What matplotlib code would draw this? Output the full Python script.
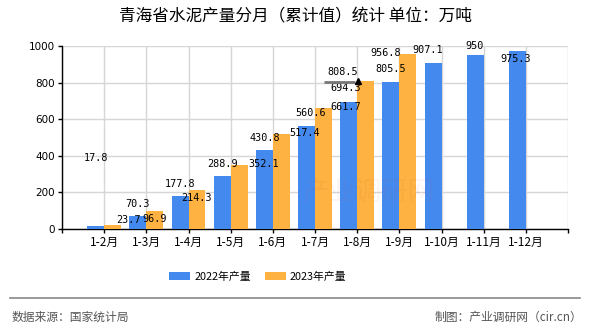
import matplotlib
matplotlib.use('Agg')
import matplotlib.pyplot as plt
import numpy as np

# ================= ДАННЫЕ =================
categories = ['1-2月', '1-3月', '1-4月', '1-5月', '1-6月', '1-7月',
              '1-8月', '1-9月', '1-10月', '1-11月', '1-12月']
prod_2022 = [17.8, 70.3, 177.8, 288.9, 430.8, 560.6, 694.3, 805.5, 907.1, 950, 975.3]
prod_2023 = [23.7, 96.9, 214.3, 352.1, 517.4, 661.7, 808.5, 956.8]
label_2022 = '2022年产量'
label_2023 = '2023年产量'
title = '青海省水泥产量分月（累计值）统计 单位：万吨'
source = '数据来源：国家统计局'
maker = '制图：产业调研网（cir.cn）'
# ==========================================

# сдвиги подписей в пикселях (как раскладка подписей на исходнике)
off_2022 = [(0, 68), (0, 12), (0, 12), (0, 12), (0, 12), (4, 13),
            (-3, 14), (0, 13), (-5, 13), (-1, 9), (-2, -8)]
off_2023 = [(16, 5), (0, -8), (0, -8), (25, 1), (23, 1), (22, 1), (-23, 9), (-22, 1)]

BLUE = '#448AEE'
ORANGE = '#FDB241'
plt.rcParams['font.family'] = ['Noto Sans CJK SC', 'DejaVu Sans']

fig = plt.figure(figsize=(5.9, 3.3), dpi=100)
ax = fig.add_axes([62 / 590, 1 - 229 / 330, 506 / 590, 183 / 330])

x = np.arange(len(categories))
w = 0.4
ax.bar(x[:len(prod_2022)], prod_2022, width=-w, align='edge', color=BLUE,
       label=label_2022, zorder=3)
ax.bar(x[:len(prod_2023)], prod_2023, width=w, align='edge', color=ORANGE,
       label=label_2023, zorder=3)

# подписи значений
for xi, v, off in zip(x, prod_2022, off_2022):
    ax.annotate(f'{v:g}', (xi - w / 2, v), xytext=off, textcoords='offset pixels',
                ha='center', va='center', fontsize=7.3, family='DejaVu Sans Mono',
                zorder=5)
for xi, v, off in zip(x, prod_2023, off_2023):
    ax.annotate(f'{v:g}', (xi + w / 2, v), xytext=off, textcoords='offset pixels',
                ha='center', va='center', fontsize=7.3, family='DejaVu Sans Mono',
                zorder=5)

# стрелка у подписи 1-8月 (серая линия + черный треугольник)
i8 = 6
y_arr = prod_2023[i8] - 5
ax.plot([x[i8] - 0.78, x[i8] - 0.05], [y_arr, y_arr], color='#777777', lw=2,
        solid_capstyle='butt', zorder=6)
ax.plot([x[i8] + 0.02], [y_arr + 5], marker='^', color='black', ms=5, zorder=7)

ax.set_xlim(-1, len(categories))
ax.set_ylim(0, 1000)
ax.set_xticks(np.arange(-1, len(categories) + 1))
ax.set_xticklabels([''] + categories + [''], fontsize=8.5)
ax.set_yticks(np.arange(0, 1001, 200))
for lab in ax.get_yticklabels():
    lab.set_fontsize(7.5)
    lab.set_family('DejaVu Sans')
ax.tick_params(axis='both', length=3, width=1, pad=2)

ax.grid(True, color='#d6d6d6', lw=1, zorder=0)
ax.set_axisbelow(True)
for s in ['top', 'right']:
    ax.spines[s].set_visible(False)
ax.spines['left'].set_linewidth(1)
ax.spines['bottom'].set_linewidth(1)

# водяной знак
fig.text(368 / 590, 1 - 192 / 330, '产业调研网', fontsize=19, color='#d04040',
         alpha=0.06, ha='center', va='center')

fig.text(0.5, 1 - 17 / 330, title, ha='center', va='center', fontsize=12)

fig.legend(loc='center', bbox_to_anchor=(258 / 590, 1 - 277 / 330), ncol=2,
           frameon=False, fontsize=7.8, handlelength=1.9, handleheight=0.8,
           columnspacing=1.3, handletextpad=0.4)

fig.add_artist(plt.Line2D([10 / 590, 580 / 590], [1 - 298 / 330] * 2,
                          color='#888888', lw=1.2))
fig.text(12 / 590, 1 - 317 / 330, source, ha='left', va='center', fontsize=8.5,
         color='#555555')
fig.text(582 / 590, 1 - 317 / 330, maker, ha='right', va='center', fontsize=8.5,
         color='#555555')

fig.savefig('out.png', dpi=100)
